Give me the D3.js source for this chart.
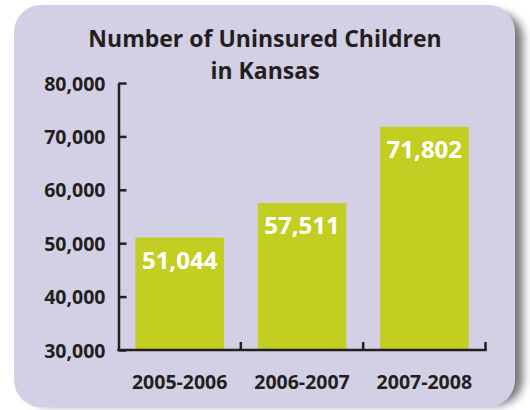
<!DOCTYPE html>
<html>
<head>
<meta charset="utf-8">
<script src="https://cdn.jsdelivr.net/npm/d3@7"></script>
<style>
  html, body { margin: 0; padding: 0; background: #ffffff; }
  svg { display: block; }
  text { font-family: "Open Sans", "Noto Sans", sans-serif; font-weight: 700; }
</style>
</head>
<body>
<script>
// ---- data ----
const categories = ["2005-2006", "2006-2007", "2007-2008"];
const values = [51044, 57511, 71802];
const valueLabels = ["51,044", "57,511", "71,802"];
const yTicks = [30000, 40000, 50000, 60000, 70000, 80000];
const titleLines = ["Number of Uninsured Children", "in Kansas"];

const W = 530, H = 410;
const ink = "#231f20";
const svg = d3.select("body").append("svg").attr("width", W).attr("height", H);

const defs = svg.append("defs");
const f = defs.append("filter").attr("id", "shadow")
  .attr("x", "-10%").attr("y", "-10%").attr("width", "130%").attr("height", "130%");
f.append("feGaussianBlur").attr("stdDeviation", 4);

// panel shadow + panel
svg.append("rect").attr("x", 22).attr("y", 12).attr("width", 501).attr("height", 393)
  .attr("rx", 26).attr("fill", "#777777").attr("filter", "url(#shadow)");
svg.append("rect").attr("x", 14).attr("y", 5).attr("width", 501).attr("height", 402)
  .attr("rx", 27).attr("fill", "#d3cfe5");

// scales
const x = d3.scaleBand().domain(categories).range([118.5, 485.5])
  .paddingInner(0.276).paddingOuter(0.138);
const y = d3.scaleLinear().domain([30000, 80000]).range([350, 83]);

// title
svg.append("text").attr("x", 265).attr("text-anchor", "middle")
  .attr("fill", ink).attr("font-size", 23)
  .selectAll("tspan").data(titleLines).join("tspan")
  .attr("x", 265).attr("y", (d, i) => 47 + i * 32).text(d => d);

// bars
svg.append("g").selectAll("rect").data(values).join("rect")
  .attr("x", (d, i) => x(categories[i]))
  .attr("width", x.bandwidth())
  .attr("y", d => y(d))
  .attr("height", d => y(30000) - y(d))
  .attr("fill", "#c2cf22");

// value labels
svg.append("g").selectAll("text").data(values).join("text")
  .attr("x", (d, i) => x(categories[i]) + x.bandwidth() / 2)
  .attr("y", d => y(d) + 31)
  .attr("text-anchor", "middle").attr("fill", "#ffffff").attr("font-size", 24)
  .text((d, i) => valueLabels[i]);

// y axis
const yAxis = d3.axisLeft(y).tickValues(yTicks)
  .tickFormat(d3.format(",")).tickSizeInner(-8).tickSizeOuter(0).tickPadding(13);
const gy = svg.append("g").attr("transform", "translate(118.5,0)").call(yAxis);
gy.selectAll("path, line").attr("stroke", ink).attr("stroke-width", 2.5);
gy.selectAll("text").attr("fill", ink).attr("font-size", 19.5)
  .attr("font-family", "'Open Sans', sans-serif").attr("font-weight", 700)
  .attr("dy", "0.36em");

// x axis (labels)
const xAxis = d3.axisBottom(x).tickSize(0).tickPadding(25);
const gx = svg.append("g").attr("transform", "translate(0,350)").call(xAxis);
gx.select(".domain").attr("stroke", ink).attr("stroke-width", 2.5)
  .attr("d", `M${x.range()[0] - 1.25},0H${x.range()[1] + 1.25}`);
gx.selectAll("text").attr("fill", ink).attr("font-size", 19.5)
  .attr("font-family", "'Open Sans', sans-serif").attr("font-weight", 700)
  .attr("dy", "0.71em");

// boundary ticks pointing up
const bounds = categories.map((c, i) => x.range()[0] + (i + 1) * x.step());
gx.append("g").selectAll("line").data(bounds).join("line")
  .attr("x1", d => d).attr("x2", d => d).attr("y1", 0).attr("y2", -8)
  .attr("stroke", ink).attr("stroke-width", 2.5);
</script>
</body>
</html>
